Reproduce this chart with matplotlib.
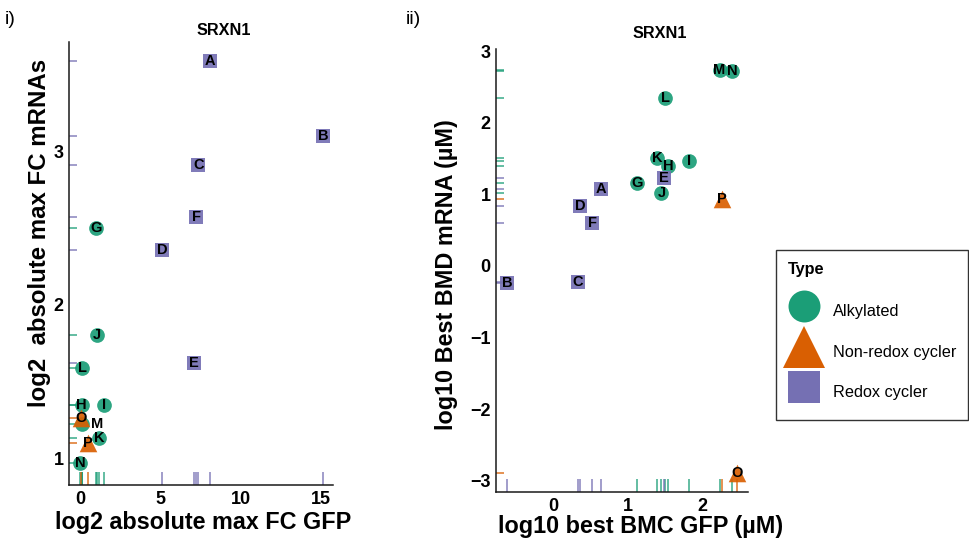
import matplotlib
matplotlib.use("Agg")
import matplotlib.pyplot as plt
from matplotlib.lines import Line2D

plt.rcParams["font.family"] = ["Liberation Sans", "DejaVu Sans"]

# Compounds and their classes
compounds = ["A", "B", "C", "D", "E", "F", "G", "H", "I", "J", "K", "L", "M", "N", "O", "P"]
compound_type = ["Redox cycler"] * 6 + ["Alkylated"] * 8 + ["Non-redox cycler"] * 2

# Panel i: log2 absolute max fold change
gfp_max_fc = [8.1, 15.15, 7.38, 5.1, 7.07, 7.23, 1.0, 0.1, 1.5, 1.05, 1.2, 0.15, 0.1, 0.0, 0.04, 0.52]
mrna_max_fc = [3.59, 3.10, 2.915, 2.36, 1.62, 2.57, 2.50, 1.345, 1.343, 1.80, 1.13, 1.59, 1.22, 0.965, 1.26, 1.10]

# Panel ii: log10 best benchmark concentration / dose (uM)
gfp_bmc = [0.64, -0.62, 0.33, 0.36, 1.48, 0.52, 1.12, 1.54, 1.82, 1.45, 1.39, 1.50, 2.23, 2.40, 2.47, 2.26]
mrna_bmd = [1.07, -0.24, -0.23, 0.84, 1.235, 0.60, 1.165, 1.40, 1.46, 1.025, 1.51, 2.35, 2.74, 2.727, -2.885, 0.94]

type_order = ["Alkylated", "Non-redox cycler", "Redox cycler"]
type_color = {"Alkylated": "#1B9E77", "Non-redox cycler": "#D95F02", "Redox cycler": "#7570B3"}
type_marker = {"Alkylated": "o", "Non-redox cycler": "^", "Redox cycler": "s"}
type_size = {"Alkylated": 112, "Non-redox cycler": 160, "Redox cycler": 100}

W, H = 970, 543
fig = plt.figure(figsize=(W / 100, H / 100), dpi=100)


def px_axes(left, top, right, bottom):
    return fig.add_axes([left / W, 1 - bottom / H, (right - left) / W, (bottom - top) / H])


def draw_panel(ax, xs, ys, xlim, ylim, xticks, yticks, label_shift):
    ax.set_xlim(*xlim)
    ax.set_ylim(*ylim)
    for side in ("top", "right"):
        ax.spines[side].set_visible(False)
    for side in ("left", "bottom"):
        ax.spines[side].set_linewidth(1.1)
        ax.spines[side].set_color("#1a1a1a")
    ax.tick_params(length=0, pad=4, labelsize=13)
    ax.set_xticks(xticks)
    ax.set_yticks(yticks)
    for lab in ax.get_xticklabels() + ax.get_yticklabels():
        lab.set_fontweight("bold")

    # marginal rugs
    for t in type_order:
        idx = [i for i, c in enumerate(compound_type) if c == t]
        ax.vlines([xs[i] for i in idx], 0, 0.03, transform=ax.get_xaxis_transform(),
                  colors=type_color[t], linewidth=1.2, alpha=0.8, zorder=1, clip_on=False)
        ax.hlines([ys[i] for i in idx], 0, 0.03, transform=ax.get_yaxis_transform(),
                  colors=type_color[t], linewidth=1.2, alpha=0.8, zorder=1, clip_on=False)

    # points by type
    for t in type_order:
        idx = [i for i, c in enumerate(compound_type) if c == t]
        ax.scatter([xs[i] for i in idx], [ys[i] for i in idx], s=type_size[t],
                   marker=type_marker[t], color=type_color[t], alpha=0.92,
                   linewidths=0, zorder=3, clip_on=False)

    # compound letters
    for i, name in enumerate(compounds):
        dx, dy = label_shift.get(name, (0, 0))
        ax.annotate(name, (xs[i], ys[i]), xytext=(dx, dy), textcoords="offset points",
                    ha="center", va="center", fontsize=10.5, fontweight="bold",
                    color="black", zorder=4, annotation_clip=False)


# Panel i
ax1 = px_axes(69, 41.7, 332.7, 485)
draw_panel(ax1, gfp_max_fc, mrna_max_fc, (-0.685, 15.74), (0.824, 3.717),
           [0, 5, 10, 15], [1, 2, 3], {"M": (11, 0)})
ax1.set_title("SRXN1", fontsize=11.7, fontweight="bold", x=0.588, y=1.0, pad=5)
ax1.set_xlabel("log2 absolute max FC GFP", fontsize=16.8, fontweight="bold")
ax1.set_ylabel("log2  absolute max FC mRNAs", fontsize=17.3, fontweight="bold")
ax1.xaxis.set_label_coords(0.508, -0.084)
ax1.xaxis.label.set_va("center")
ax1.yaxis.set_label_coords(-0.11, 0.568)
ax1.yaxis.label.set_va("center")

# Panel ii
ax2 = px_axes(496.3, 49, 748.3, 492.3)
draw_panel(ax2, gfp_bmc, mrna_bmd, (-0.765, 2.615), (-3.16, 3.03),
           [0, 1, 2], [-3, -2, -1, 0, 1, 2, 3], {})
ax2.set_title("SRXN1", fontsize=11.7, fontweight="bold", x=0.65, y=1.0, pad=8)
ax2.set_xlabel("log10 best BMC GFP (\u00b5M)", fontsize=16.8, fontweight="bold")
ax2.set_ylabel("log10 Best BMD mRNA (\u00b5M)", fontsize=16.8, fontweight="bold")
ax2.xaxis.set_label_coords(0.572, -0.078)
ax2.xaxis.label.set_va("center")
ax2.yaxis.set_label_coords(-0.196, 0.49)
ax2.yaxis.label.set_va("center")

# Panel tags
fig.text(5 / W, 1 - 19 / H, "i)", fontsize=14, va="center", ha="left")
fig.text(406 / W, 1 - 19 / H, "ii)", fontsize=14, va="center", ha="left")

# Legend
handles = [Line2D([], [], linestyle="none", marker=type_marker[t], color=type_color[t],
                  markersize={"Alkylated": 23, "Non-redox cycler": 30, "Redox cycler": 23}[t],
                  markeredgewidth=0)
           for t in type_order]
leg = fig.legend(handles, type_order, loc="upper left",
                 bbox_to_anchor=(775.7 / W, 1 - 250 / H), title="Type",
                 alignment="left", frameon=True, fancybox=False, edgecolor="black",
                 fontsize=11.7, title_fontproperties={"weight": "bold", "size": 11.7},
                 borderpad=0.75, handlelength=1.95, handleheight=2.5,
                 handletextpad=0.8, labelspacing=0.62, borderaxespad=0)
leg.get_frame().set_linewidth(1.0)
# a little more room between the legend title and its entries
leg._legend_box.sep = 13.7

fig.savefig("out.png", dpi=100)
